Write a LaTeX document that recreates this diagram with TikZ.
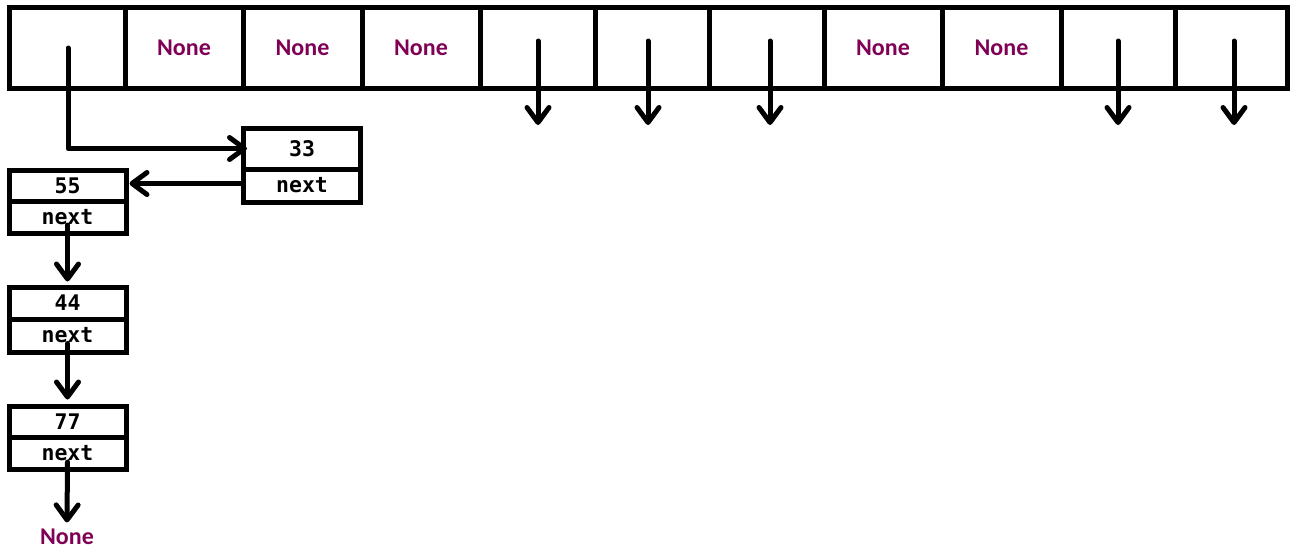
\documentclass[tikz,border=0pt]{standalone}
\usepackage{fontspec}
\setmainfont{Carlito}
\newfontfamily\monofont{DejaVu Sans Mono}
\usetikzlibrary{arrows.meta}
\definecolor{nonecol}{HTML}{7F0055}

\begin{document}
\begin{tikzpicture}[x=1pt,y=-1pt,
  cell/.style={draw, line width=5pt, minimum height=81pt, inner sep=0pt},
  fld/.style={draw, line width=5pt, minimum width=117pt, inner sep=0pt,
    font=\monofont\bfseries\fontsize{21.5}{21.5}\selectfont},
  nonetxt/.style={text=nonecol, font=\bfseries\fontsize{24}{24}\selectfont},
  ptr/.style={line width=5pt, line cap=round, line join=round,
    -{Straight Barb[length=15pt,width=22pt,round]}}]
\useasboundingbox (0,0) rectangle (1292,549);

% hash table slots
\foreach \l/\r/\t [count=\i from 0] in
  {9/125/{}, 125/243/None, 243/362/None, 362/480/None, 480/595/{},
   595/709/{}, 709/824/{}, 824/942/None, 942/1061/None, 1061/1175/{},
   1175/1287/{}}
  \node[cell, nonetxt, minimum width={\r-\l}] (c\i) at ({(\l+\r)/2},47.5) {\t};

% dangling bucket pointers
\foreach \i/\x in {4/538, 5/648, 6/770, 9/1118, 10/1234} {
  \coordinate (s\i) at (\x,41);
  \coordinate (e\i) at (\x,125);
  \draw[ptr] (s\i) -- (e\i);
}

% chain nodes: value field on top, next field below
\node[fld, minimum height=41pt] (a33) at (302,148.5) {33};
\node[fld, minimum height=33pt] (b33) at (302,185.5) {next};

\node[fld, minimum height=31pt] (a55) at (67.5,185.5) {55};
\node[fld, minimum height=32pt] (b55) at (67.5,217) {next};

\node[fld, minimum height=32pt] (a44) at (67.5,303) {44};
\node[fld, minimum height=33pt] (b44) at (67.5,335.5) {next};

\node[fld, minimum height=31pt] (a77) at (67.5,421.5) {77};
\node[fld, minimum height=32pt] (b77) at (67.5,453) {next};

\node[nonetxt, inner sep=0pt] (nil) at (67,536.5) {None};

% links
\coordinate (h0) at (68,48);
\draw[ptr] (h0) |- ([xshift=6pt]a33.west);
\draw[ptr] ([yshift=2pt]b33.west) -- ([xshift=1pt,yshift=2pt]a55.east);
\draw[ptr] ([yshift=-8pt]b55.center) -- ([yshift=3pt]a44.north);
\draw[ptr] ([yshift=-8pt]b44.center) -- ([yshift=4pt]a77.north);
\draw[ptr] ([yshift=-9pt]b77.center) -- ([yshift=6pt]nil.north);
\end{tikzpicture}
\end{document}
